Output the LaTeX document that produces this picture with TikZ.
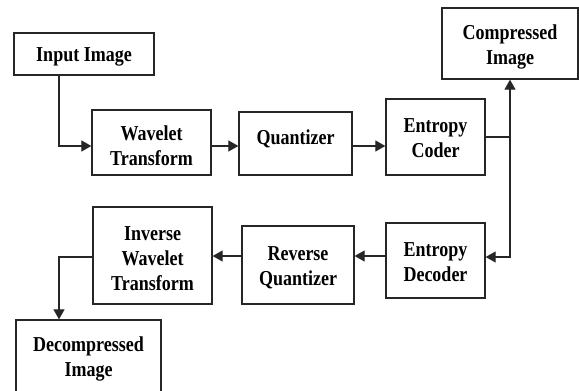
\documentclass[tikz,border=0pt]{standalone}
\usepackage{fontspec}
\usepackage{graphicx}
\setmainfont{Liberation Serif}
\usetikzlibrary{arrows.meta,positioning,calc}
\newcommand{\tallText}[2][-3pt]{\raisebox{\dimexpr#1-5.3pt\relax}[0pt][0pt]{\scalebox{1}[1.18]{\begin{tabular}{@{}c@{}}#2\end{tabular}}}}
\tikzset{
  block/.style={draw=black!85, line width=1.3pt, inner sep=0pt, font=\fontsize{18}{21}\selectfont\bfseries},
  arrow/.style={-{Triangle[length=10pt,width=11pt]}, line width=1.2pt, black!85},
  link/.style={line width=1.2pt, black!85}
}

\begin{document}
\begin{tikzpicture}[x=1pt,y=-1pt]
        \useasboundingbox (0,0) rectangle (579,391);
        \node[block, minimum width=140, minimum height=42] (input) at (84,54) {\tallText[-2pt]{Input Image}};
        \node[block, minimum width=119, minimum height=65] (wavelet) at (151.5,142.5) {\tallText[-5pt]{Wavelet\\Transform}};
        \node[block, minimum width=113, minimum height=63] (quant) at (295.5,143.5) {\tallText[4pt]{Quantizer}};
        \node[block, minimum width=99, minimum height=76] (coder) at (435.5,137) {\tallText{Entropy\\Coder}};
        \node[block, minimum width=136, minimum height=71] (compressed) at (510,43.5) {\tallText{Compressed\\Image}};
        \node[block, minimum width=99, minimum height=75] (decoder) at (435.5,260.5) {\tallText{Entropy\\Decoder}};
        \node[block, minimum width=112, minimum height=78] (rquant) at (298,265) {\tallText{Reverse\\Quantizer}};
        \node[block, minimum width=119, minimum height=97] (inverse) at (152.5,255.5) {\tallText[-5pt]{Inverse\\Wavelet\\Transform}};
        \node[block, minimum width=145, minimum height=84] (decomp) at (88.5,362) {};
        \node[font=\fontsize{18}{21}\selectfont\bfseries] (decomptext) at (88.5,356) {\tallText{Decompressed\\Image}};
        \coordinate (tap) at (coder.east -| compressed.south);
        \draw[arrow] ([xshift=-25]input.south) |- ([yshift=-3.5]wavelet.west);
        \draw[arrow] ([yshift=-3.5]wavelet.east) -- ([yshift=-3.5]wavelet.east -| quant.west);
        \draw[arrow] ([yshift=-2.5]quant.east) -- ([yshift=-2.5]quant.east -| coder.west);
        \draw[link] (coder.east) -- (tap);
        \draw[arrow] (tap) -- (compressed.south);
        \draw[arrow] (tap) |- ([yshift=3.5]decoder.east);
        \draw[arrow] ([yshift=4.5]decoder.west) -- ([yshift=4.5]decoder.west -| rquant.east);
        \draw[arrow] ([yshift=9]rquant.west) -- ([yshift=9]rquant.west -| inverse.east);
        \draw[arrow] ([yshift=-1.5]inverse.west) -| ([xshift=-29.5]decomp.north);
      \end{tikzpicture}
\end{document}
